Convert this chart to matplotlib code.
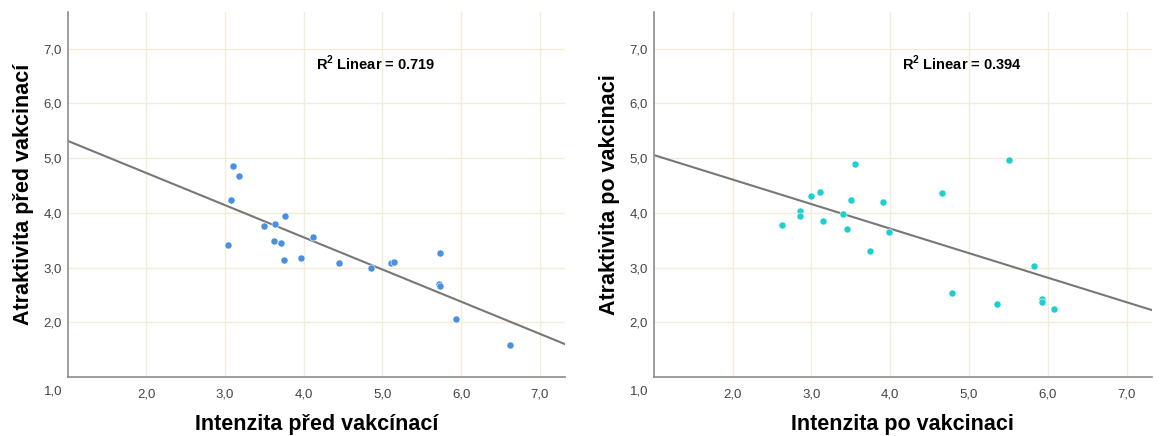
import matplotlib
matplotlib.use('Agg')
import matplotlib.pyplot as plt
import numpy as np

plt.rcParams['font.family'] = ['Liberation Sans', 'DejaVu Sans']
plt.rcParams['mathtext.fontset'] = 'custom'
plt.rcParams['mathtext.rm'] = 'Liberation Sans'
plt.rcParams['mathtext.bf'] = 'Liberation Sans:bold'

## data
pred_x = [3.10, 3.18, 3.07, 3.04, 3.49, 3.63, 3.76, 3.62, 3.71, 3.75, 3.96,
          4.12, 4.45, 4.85, 5.11, 5.15, 5.73, 5.72, 5.73, 5.94, 6.62]
pred_y = [4.86, 4.67, 4.23, 3.41, 3.76, 3.79, 3.95, 3.49, 3.45, 3.14, 3.17,
          3.56, 3.09, 3.00, 3.09, 3.11, 3.27, 2.70, 2.67, 2.06, 1.59]
po_x = [2.63, 2.85, 2.86, 3.00, 3.11, 3.15, 3.40, 3.45, 3.50, 3.55, 3.75,
        3.91, 3.98, 4.66, 4.79, 5.36, 5.51, 5.83, 5.93, 5.92, 6.08]
po_y = [3.77, 4.04, 3.94, 4.30, 4.39, 3.85, 3.98, 3.71, 4.23, 4.89, 3.31,
        4.19, 3.65, 4.36, 2.54, 2.34, 4.96, 3.02, 2.42, 2.38, 2.24]
r2_labels = ['0.719', '0.394']
x_titles = ['Intenzita před vakcínací', 'Intenzita po vakcinaci']
y_titles = ['Atraktivita před vakcinací', 'Atraktivita po vakcinaci']
colors = ['#4a90e2', '#1fcfcf']
ticks = [2, 3, 4, 5, 6, 7]
tick_labels = ['2,0', '3,0', '4,0', '5,0', '6,0', '7,0']

fig = plt.figure(figsize=(11.65, 4.36), dpi=100)
ax1 = fig.add_axes([0.0581, 0.1353, 0.4269, 0.837])
ax2 = fig.add_axes([0.5611, 0.1353, 0.4277, 0.837])

sets = [(ax1, pred_x, pred_y), (ax2, po_x, po_y)]
for i, (ax, xs, ys) in enumerate(sets):
  xs = np.array(xs)
  ys = np.array(ys)
  ax.set_xlim(1, 7.32)
  ax.set_ylim(1, 7.67)
  ax.set_xticks(ticks)
  ax.set_xticklabels(tick_labels)
  ax.set_yticks(ticks)
  ax.set_yticklabels(tick_labels)
  ax.tick_params(length=0, labelsize=9.5, labelcolor='#444444')
  ax.tick_params(axis='x', pad=8)
  ax.tick_params(axis='y', pad=4)
  ax.grid(True, color='#f2ecd9', lw=1)
  ax.set_axisbelow(True)
  for s in ['top', 'right']:
    ax.spines[s].set_visible(False)
  for s in ['left', 'bottom']:
    ax.spines[s].set_color('#8c8c8c')
    ax.spines[s].set_linewidth(1.2)

  # fit line over the whole x range
  k, q = np.polyfit(xs, ys, 1)
  lx = np.array([1, 7.32])
  ax.plot(lx, k * lx + q, color='#777777', lw=1.5, zorder=2)

  ax.scatter(xs, ys, s=26, color=colors[i], edgecolors='white', linewidths=0.4,
             zorder=3)

  ax.text(4.15, 6.74, 'R$^{\\mathbf{2}}$ Linear = ' + r2_labels[i], fontsize=10.5,
          fontweight='bold', va='center', ha='left')
  ax.annotate('1,0', xy=(0, 0), xycoords='axes fraction', xytext=(-14, -14),
              textcoords='offset pixels', ha='center', va='center',
              fontsize=9.5, color='#444444')

  ax.set_xlabel(x_titles[i], fontsize=15.5, fontweight='bold', labelpad=10)
  ax.set_ylabel(y_titles[i], fontsize=15.5, fontweight='bold', labelpad=7)

fig.savefig('out.png', dpi=100)
